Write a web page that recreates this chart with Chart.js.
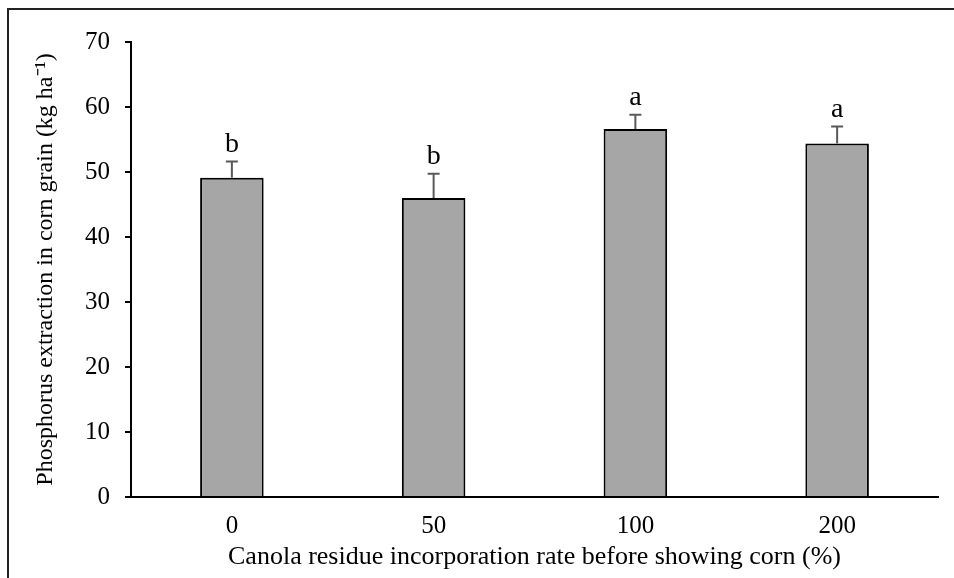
<!DOCTYPE html>
<html>
<head>
<meta charset="utf-8">
<script src="https://cdn.jsdelivr.net/npm/chart.js@4"></script>
<style>
  html, body { margin: 0; padding: 0; background: #fff; }
  #wrap { width: 954px; height: 578px; }
</style>
</head>
<body>
<div id="wrap"><canvas id="chart" width="954" height="578"></canvas></div>
<script>
var rates = ['0', '50', '100', '200'];
var pExtraction = [49.1, 46.0, 56.6, 54.4];
var stdErr = [2.5, 3.75, 2.2, 2.6];
var letters = ['b', 'b', 'a', 'a'];
var yTicks = [0, 10, 20, 30, 40, 50, 60, 70];

var serif = "'Liberation Serif', 'Times New Roman', serif";

// error bars, significance letters and the outer frame
var extras = {
  id: 'extras',
  afterDatasetsDraw: function(chart) {
    var c = chart.ctx;
    var y = chart.scales.y;
    var meta = chart.getDatasetMeta(0);
    c.save();
    meta.data.forEach(function(bar, i) {
      var top = y.getPixelForValue(pExtraction[i] + stdErr[i]);
      c.strokeStyle = '#595959';
      c.lineWidth = 2;
      c.beginPath();
      c.moveTo(bar.x, bar.y);
      c.lineTo(bar.x, top);
      c.moveTo(bar.x - 6, top);
      c.lineTo(bar.x + 6, top);
      c.stroke();
      c.fillStyle = '#000';
      c.font = '28px ' + serif;
      c.textAlign = 'center';
      c.textBaseline = 'alphabetic';
      c.fillText(letters[i], bar.x, top - 10);
    });
    c.strokeStyle = '#222';
    c.lineWidth = 2;
    c.beginPath();
    c.moveTo(8, 578);
    c.lineTo(8, 9);
    c.lineTo(954, 9);
    c.stroke();
    c.restore();
  }
};

var ctx = new Chart(document.getElementById('chart'), {
  type: 'bar',
  data: {
    labels: rates,
    datasets: [{
      data: pExtraction,
      backgroundColor: '#a6a6a6',
      borderColor: '#000',
      borderWidth: 2,
      categoryPercentage: 1,
      barPercentage: 0.315
    }]
  },
  options: {
    responsive: false,
    animation: false,
    layout: { padding: { left: 0, right: 16, top: 42, bottom: 0 } },
    plugins: { legend: { display: false }, tooltip: { enabled: false } },
    scales: {
      x: {
        grid: { display: false },
        border: { color: '#000', width: 2 },
        ticks: { color: '#000', padding: 6, font: { family: serif, size: 25 } },
        title: {
          display: true,
          text: 'Canola residue incorporation rate before showing corn (%)',
          color: '#000',
          font: { family: serif, size: 26 },
          padding: { top: 0, bottom: 5 }
        },
        afterFit: function(s) { s.height = 81; }
      },
      y: {
        min: 0,
        max: 70,
        afterBuildTicks: function(s) { s.ticks = yTicks.map(function(v) { return { value: v }; }); },
        grid: { drawOnChartArea: false, tickLength: 6, color: '#000', lineWidth: 2 },
        border: { color: '#000', width: 2 },
        ticks: { color: '#000', padding: 15, font: { family: serif, size: 25 } },
        title: {
          display: true,
          text: 'Phosphorus extraction in corn grain (kg ha\u207B\u00B9)',
          color: '#000',
          font: { family: serif, size: 24 },
          padding: { top: 31, bottom: 0 }
        },
        afterFit: function(s) { s.width = 131; }
      }
    }
  },
  plugins: [extras]
});
</script>
</body>
</html>
